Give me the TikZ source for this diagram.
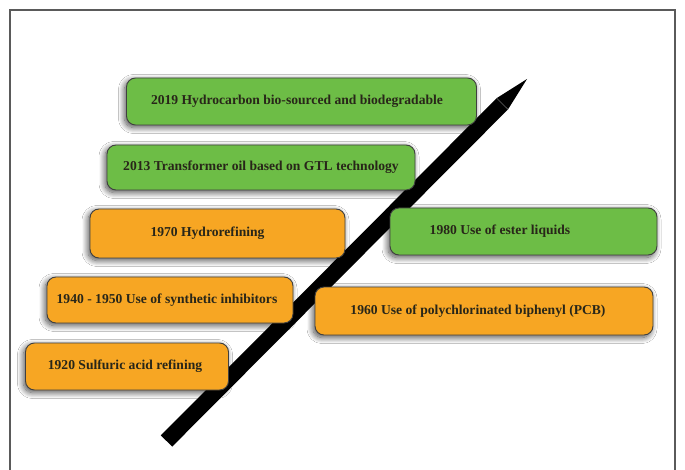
\documentclass[tikz,border=0pt]{standalone}
\usepackage{fontspec}
\setmainfont{Liberation Serif}
\usetikzlibrary{shadows.blur}
\definecolor{boxgreen}{RGB}{109,189,70}
\definecolor{boxorange}{RGB}{247,166,35}
\definecolor{boxtext}{RGB}{40,38,25}
\definecolor{frameline}{RGB}{90,90,90}
\tikzset{
  event/.style={rounded corners=9pt, draw=black!75, line width=0.9pt,
    blur shadow={shadow xshift=-2pt, shadow yshift=-2.5pt, shadow blur radius=6pt, shadow blur steps=12, shadow opacity=70},
    inner sep=0pt},
  greenbox/.style={event, fill=boxgreen},
  orangebox/.style={event, fill=boxorange},
  lbl/.style={font=\bfseries\fontsize{13.6}{15}\selectfont, text=boxtext, inner sep=0pt}
}
\begin{document}
\begin{tikzpicture}[x=1pt,y=-1pt]
\useasboundingbox (0,0) rectangle (685,470);
\clip (0,0) rectangle (685,470);
\fill[white] (0,0) rectangle (685,470);
% frame
\draw[frameline, line width=1.3pt] (10,480) -- (10,10) -- (675,10) -- (675,480);
% arrow (pencil-like)
\coordinate (tip) at (527,79);
\fill[black] (172.2,446.6) -- (160.8,435.4) -- (496.6,98.2) -- (tip) -- (508.0,109.4) -- cycle;
\draw[black!60, line width=0.6pt] (496.6,98.2) -- (508.0,109.4);
% boxes
\node[greenbox, minimum width=350pt, minimum height=47pt] (b2019) at (301.5,101.5) {};
\node[lbl] (t2019) at (297,101.5) {2019 Hydrocarbon bio-sourced and biodegradable};
\node[greenbox, minimum width=308pt, minimum height=45pt] (b2013) at (261,167.5) {};
\node[lbl] (t2013) at (261,167.5) {2013 Transformer oil based on GTL technology};
\node[orangebox, minimum width=255pt, minimum height=49pt] (b1970) at (217.5,233.5) {};
\node[lbl] (t1970) at (207.5,233.5) {1970 Hydrorefining};
\node[greenbox, minimum width=267pt, minimum height=47pt] (b1980) at (523.5,231.5) {};
\node[lbl] (t1980) at (500,231.5) {1980 Use of ester liquids};
\node[orangebox, minimum width=246pt, minimum height=46pt] (b1940) at (170,300) {};
\node[lbl] (t1940) at (167,300) {1940 - 1950 Use of synthetic inhibitors};
\node[orangebox, minimum width=338pt, minimum height=48pt] (b1960) at (484,311) {};
\node[lbl] (t1960) at (478,311) {1960 Use of polychlorinated biphenyl (PCB)};
\node[orangebox, minimum width=203pt, minimum height=47pt] (b1920) at (127,366.5) {};
\node[lbl] (t1920) at (125,366.5) {1920 Sulfuric acid refining};
\end{tikzpicture}
\end{document}
